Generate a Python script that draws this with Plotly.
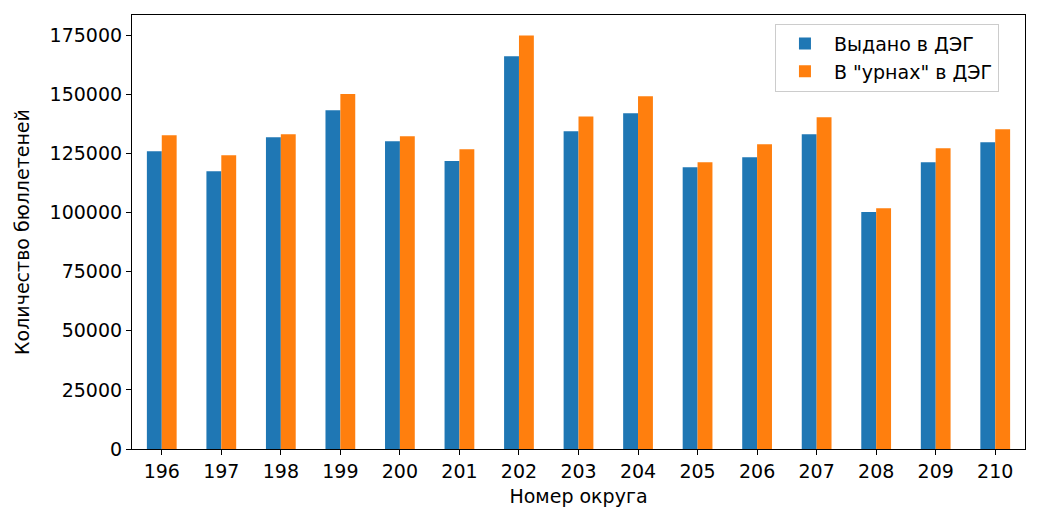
import plotly.graph_objects as go

districts = ["196", "197", "198", "199", "200", "201", "202", "203", "204", "205", "206", "207", "208", "209", "210"]
issued = [126000, 117500, 131900, 143300, 130200, 121800, 166200, 134400, 142000, 119200, 123400, 133100, 100300, 121300, 129800]
in_urns = [132700, 124300, 133100, 150200, 132300, 126800, 174900, 140700, 149200, 121300, 128900, 140300, 101900, 127200, 135300]

series_names = ["Выдано в ДЭГ", "В \"урнах\" в ДЭГ"]
colors = ["#1f77b4", "#ff7f0e"]

fig = go.Figure()
for name, vals, c in zip(series_names, [issued, in_urns], colors):
    fig.add_trace(go.Bar(x=districts, y=vals, name=name, marker=dict(color=c, line=dict(width=0))))

font = "DejaVu Sans, sans-serif"
fs = 19
fig.update_layout(
    width=1039, height=523,
    barmode="group", bargap=0.5, bargroupgap=0,
    paper_bgcolor="white", plot_bgcolor="white",
    margin=dict(l=132, r=14, t=15, b=74),
    font=dict(family=font, size=fs, color="black"),
    showlegend=True,
    legend=dict(x=0.72, y=0.98, xanchor="left", yanchor="top",
                bgcolor="rgba(255,255,255,0.8)", bordercolor="#cccccc", borderwidth=1,
                font=dict(size=fs), tracegroupgap=0, itemwidth=48),
    xaxis=dict(type="category", showline=True, linecolor="black", linewidth=1.2, mirror=True,
               ticks="outside", ticklen=5, tickcolor="black", showgrid=False,
               tickfont=dict(size=fs),
               title=dict(text="Номер округа", standoff=8, font=dict(size=fs))),
    yaxis=dict(range=[0, 183600], showline=True, linecolor="black", linewidth=1.2, mirror=True,
               ticks="outside", ticklen=5, tickcolor="black", showgrid=False, zeroline=False,
               tickfont=dict(size=fs),
               tickvals=[0, 25000, 50000, 75000, 100000, 125000, 150000, 175000],
               ticktext=["0", "25000", "50000", "75000", "100000", "125000", "150000", "175000"],
               title=dict(text="Количество бюллетеней", standoff=14, font=dict(size=fs))),
)
fig.write_html("out.html")
